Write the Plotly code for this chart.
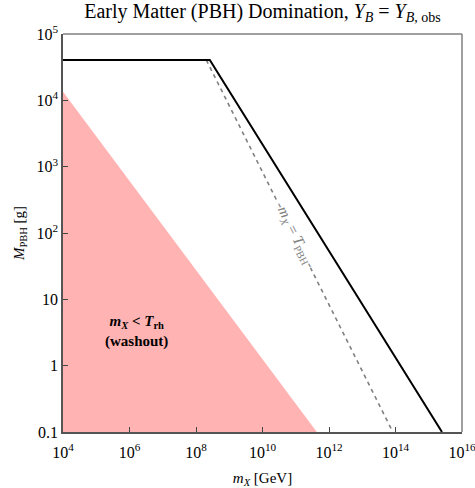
import plotly.graph_objects as go

# Boundary curves (log-log plane: m_X in GeV, M_PBH in grams)
bound_x = [1e4, 2.6e8, 2.5e15]
bound_y = [4.05e4, 4.05e4, 0.1]

# m_X = T_PBH line
tpbh_x = [2.05e8, 8.3e13]
tpbh_y = [4.05e4, 0.1]

# washout region edge (m_X < T_rh)
wash_x = [1e4, 1e4, 4.3e11]
wash_y = [0.1, 1.35e4, 0.1]

x_ticks = [1e4, 1e6, 1e8, 1e10, 1e12, 1e14, 1e16]
x_ticktext = ["10<sup>4</sup>", "10<sup>6</sup>", "10<sup>8</sup>", "10<sup>10</sup>",
              "10<sup>12</sup>", "10<sup>14</sup>", "10<sup>16</sup>"]
y_ticks = [0.1, 1, 10, 1e2, 1e3, 1e4, 1e5]
y_ticktext = ["0.1", "1", "10", "10<sup>2</sup>", "10<sup>3</sup>",
              "10<sup>4</sup>", "10<sup>5</sup>"]

FONT = "Liberation Serif"

fig = go.Figure()
fig.add_trace(go.Scatter(x=wash_x, y=wash_y, mode="lines", fill="toself",
                         fillcolor="#FFB3B3", line=dict(width=0),
                         hoverinfo="skip", showlegend=False))
fig.add_trace(go.Scatter(x=tpbh_x, y=tpbh_y, mode="lines",
                         line=dict(color="#808080", width=1.6, dash="4px,4px"),
                         showlegend=False))
fig.add_trace(go.Scatter(x=bound_x, y=bound_y, mode="lines",
                         line=dict(color="black", width=2),
                         showlegend=False))

fig.add_annotation(x=6.22, y=0.52, xref="x", yref="y", showarrow=False,
                   text="<b><i>m<sub>X</sub></i> &lt; <i>T</i><sub>rh</sub></b><br><b>(washout)</b>",
                   font=dict(family=FONT, size=15, color="black"), align="center")
fig.add_annotation(x=10.97, y=1.97, xref="x", yref="y", showarrow=False,
                   text="-<i>m<sub>X</sub></i> = <i>T</i><sub>PBH</sub>-",
                   textangle=63.4, bgcolor="white", borderpad=0,
                   font=dict(family=FONT, size=15, color="#808080"))

# top and right frame edges
fig.add_shape(type="line", xref="paper", yref="paper", x0=0, x1=1, y0=1, y1=1,
              line=dict(color="#808080", width=1.5))
fig.add_shape(type="line", xref="paper", yref="paper", x0=1, x1=1, y0=0, y1=1,
              line=dict(color="#808080", width=1.5))

fig.update_xaxes(type="log", range=[4, 16], tickvals=x_ticks, ticktext=x_ticktext,
                 ticks="inside", ticklen=5, tickcolor="#444", showgrid=False,
                 zeroline=False, showline=True, linecolor="#555", linewidth=1.5,
                 ticklabeloverflow="allow", ticklabelstandoff=5, automargin=False,
                 tickfont=dict(family=FONT, size=16, color="black"),
                 title=dict(text="<i>m<sub>X</sub></i> [GeV]", standoff=13,
                            font=dict(family=FONT, size=15, color="black")))
fig.update_yaxes(type="log", range=[-1, 5], tickvals=y_ticks, ticktext=y_ticktext,
                 ticks="inside", ticklen=5, tickcolor="#444", showgrid=False,
                 zeroline=False, showline=True, linecolor="#555", linewidth=1.5,
                 automargin=False,
                 tickfont=dict(family=FONT, size=16, color="black"),
                 title=dict(text="<i>M</i><sub>PBH</sub> [g]", standoff=8,
                            font=dict(family=FONT, size=15, color="black")))

fig.update_layout(
    width=475, height=488,
    margin=dict(l=63, r=13, t=34, b=56),
    plot_bgcolor="white", paper_bgcolor="white",
    title=dict(text="Early Matter (PBH) Domination, <i>Y<sub>B</sub></i> = <i>Y</i><sub><i>B</i>, obs</sub>",
               xref="paper", x=0.5, xanchor="center", y=0.977, yanchor="middle",
               font=dict(family=FONT, size=20, color="black")),
)

fig.write_html("out.html")
